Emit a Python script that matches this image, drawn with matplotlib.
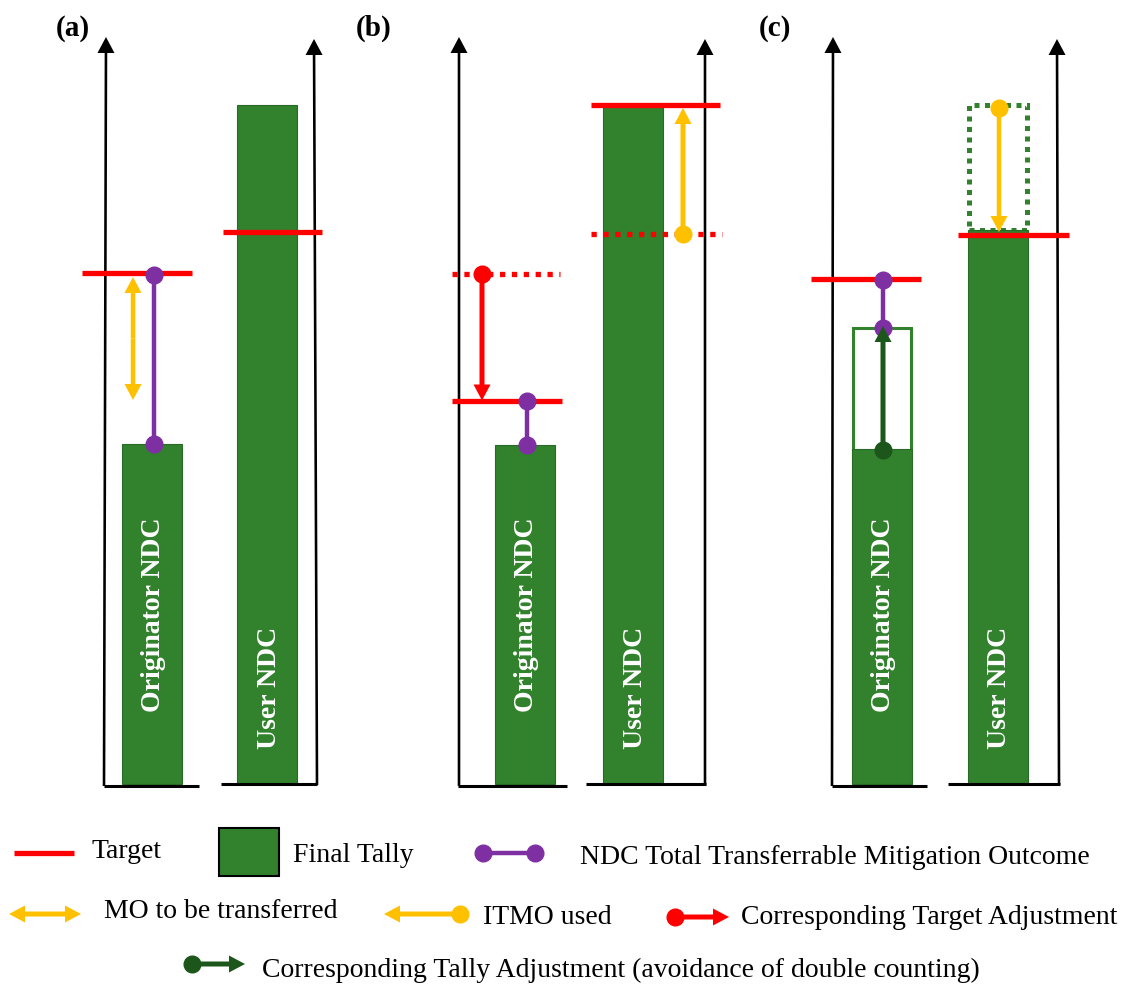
import matplotlib
matplotlib.use('Agg')
import matplotlib.pyplot as plt
from matplotlib.patches import Rectangle

# ---------------- data (heights above the baseline) ----------------
panels = ['(a)', '(b)', '(c)']
bar_labels = ['Originator NDC', 'User NDC']
originator_tally = [340, 339, 335]
user_tally = [679, 679, 554]
originator_target = [511, 383, 505]
user_target = [552, 679, 549]
originator_target_before = [None, 510, None]
user_target_before = [None, 550, None]
transferable_top = [509, 383, 504]
transferable_bottom = [340, 339, 456]
mo_to_transfer = [507, 384]            # panel (a) double arrow
itmo_used_b = [550, 676]               # dot -> arrow tip
itmo_used_c = [676, 552]
tally_adjust_c = [334, 456]            # dot -> arrow tip
originator_before_adjust_c = 456
user_before_adjust_c = [554, 679]
legend_labels = ['Target', 'Final Tally', 'NDC Total Transferrable Mitigation Outcome',
                 'MO to be transferred', 'ITMO used', 'Corresponding Target Adjustment',
                 'Corresponding Tally Adjustment (avoidance of double counting)']

# ---------------- styles ----------------
GREEN = '#31812d'
GREEN_EDGE = '#2a6a27'
DKGREEN = '#1d561b'
RED = '#ff0000'
PURPLE = '#7e30a3'
YELLOW = '#ffc000'
SERIF = ['Liberation Serif', 'DejaVu Serif']

W, H = 1132, 989
BASE = 784  # pixel row of the baseline


def P(py):
    """pixel row -> data value"""
    return BASE - py


fig = plt.figure(figsize=(W / 100, H / 100), dpi=100)
ax = fig.add_axes([0, 0, 1, 1])
ax.set_xlim(0, W)
ax.set_ylim(BASE - H, BASE)
ax.axis('off')

# layout (pixel x positions)
axis_left = [(104, 106), (459, 459), (832, 833)]
axis_right = [(317, 314), (705, 705), (1059, 1057)]
base_left = [(104, 199), (458, 567), (832, 927)]
base_right = [(221, 317), (586, 706), (948, 1060)]
orig_x = [152, 524.5, 881.5]
user_x = [267, 633, 997.5]
orig_tx = [(82, 192), (452, 562), (811, 921)]
user_tx = [(223, 322), (591, 720), (958, 1069)]
purple_x = [154, 527, 883]
label_x = [73, 374, 775]
BAR_W = 60


def arrow(x0, y0, x1, y1, color, width=4.5, hw=17, hl=16, z=5):
    ax.arrow(x0, y0, x1 - x0, y1 - y0, width=width, head_width=hw, head_length=hl,
             length_includes_head=True, color=color, lw=0, zorder=z)


for i in range(3):
    # axes with arrow heads
    (xb, xt) = axis_left[i]
    arrow(xb, P(786), xt, P(37), 'black', width=2.6, hw=17, hl=16, z=3)
    (xb, xt) = axis_right[i]
    arrow(xb, P(785), xt, P(39), 'black', width=2.6, hw=17, hl=16, z=3)
    ax.plot(base_left[i], [P(785.5), P(785.5)], color='black', lw=2.2, solid_capstyle='butt', zorder=3)
    ax.plot(base_right[i], [P(784), P(784)], color='black', lw=2.2, solid_capstyle='butt', zorder=3)

    ax.text(label_x[i], P(28), panels[i], ha='center', va='center', fontsize=21,
            fontweight='bold', family=SERIF)

    # bars
    if i == 2:
        ax.bar(orig_x[i], originator_before_adjust_c, width=BAR_W - 2, bottom=0, fill=False,
               edgecolor=GREEN, lw=2.2, zorder=2)
        ax.bar(user_x[i], user_before_adjust_c[1] - user_before_adjust_c[0], width=BAR_W - 2,
               bottom=user_before_adjust_c[0], fill=False, edgecolor=GREEN, lw=3.6,
               linestyle=(0, (1, 1.1)), zorder=2)
    ax.bar(orig_x[i], originator_tally[i], width=BAR_W, bottom=0, color=GREEN,
           edgecolor=GREEN_EDGE, lw=0.8, zorder=2)
    ax.bar(user_x[i], user_tally[i], width=BAR_W, bottom=0, color=GREEN,
           edgecolor=GREEN_EDGE, lw=0.8, zorder=2)
    ax.text(orig_x[i] + 2, P(615), bar_labels[0], rotation=90, ha='center', va='center',
            color='white', fontsize=20, fontweight='bold', family=SERIF, zorder=4)
    ax.text(user_x[i] + 2, P(688), bar_labels[1], rotation=90, ha='center', va='center',
            color='white', fontsize=20, fontweight='bold', family=SERIF, zorder=4)

    # targets
    ax.plot(orig_tx[i], [originator_target[i]] * 2, color=RED, lw=3.8,
            solid_capstyle='butt', zorder=4)
    ax.plot(user_tx[i], [user_target[i]] * 2, color=RED, lw=3.8,
            solid_capstyle='butt', zorder=4)

    # transferable outcome
    ax.plot([purple_x[i]] * 2, [transferable_bottom[i], transferable_top[i]], color=PURPLE,
            lw=3.2, marker='o', ms=12, zorder=6)

# panel (a): MO to be transferred (double arrow)
mid = (mo_to_transfer[0] + mo_to_transfer[1]) / 2
arrow(133, mid, 133, mo_to_transfer[0], YELLOW, width=4.5)
arrow(133, mid, 133, mo_to_transfer[1], YELLOW, width=4.5)

# panel (b): corresponding target adjustment
ax.plot((452, 560), [originator_target_before[1]] * 2, color=RED, lw=3.8,
        linestyle=(0, (1, 1.25)), dash_capstyle='butt', zorder=4)
ax.plot((591, 722), [user_target_before[1]] * 2, color=RED, lw=3.8,
        linestyle=(0, (1, 1.25)), dash_capstyle='butt', zorder=4)
arrow(482, originator_target_before[1], 482, originator_target[1] + 0.5, RED, width=5)
ax.plot(482, originator_target_before[1], 'o', color=RED, ms=12, zorder=6)
arrow(683, itmo_used_b[0], 683, itmo_used_b[1], YELLOW, width=5)
ax.plot(683, itmo_used_b[0], 'o', color=YELLOW, ms=12, zorder=6)

# panel (c): ITMO used and tally adjustment
arrow(999, itmo_used_c[0], 999, itmo_used_c[1], YELLOW, width=4.5)
ax.plot(999, itmo_used_c[0], 'o', color=YELLOW, ms=12, zorder=6)
arrow(883, tally_adjust_c[0], 883, tally_adjust_c[1] + 2, DKGREEN, width=5, z=7)
ax.plot(883, tally_adjust_c[0], 'o', color=DKGREEN, ms=12, zorder=7)

# ---------------- legend ----------------
LFS = 20
ax.plot((14, 74), (P(853), P(853)), color=RED, lw=3.8, solid_capstyle='butt')
ax.text(91, P(851), legend_labels[0], ha='left', va='center', fontsize=LFS, family=SERIF)
ax.add_patch(Rectangle((219, P(876)), 60, 48, facecolor=GREEN, edgecolor='black', lw=1.5))
ax.text(293, P(855), legend_labels[1], ha='left', va='center', fontsize=LFS, family=SERIF)
ax.plot((483, 535), (P(853), P(853)), color=PURPLE, lw=3.2, marker='o', ms=12)
ax.text(580, P(857), legend_labels[2], ha='left', va='center', fontsize=LFS, family=SERIF)

ax.plot([], [])
arrow(45, P(914), 9, P(914), YELLOW, width=5)
arrow(45, P(914), 81, P(914), YELLOW, width=5)
ax.text(104, P(912), legend_labels[3], ha='left', va='center', fontsize=LFS, family=SERIF)
arrow(462, P(914), 384, P(914), YELLOW, width=5)
ax.plot(460, P(914), 'o', color=YELLOW, ms=12, zorder=6)
ax.text(483, P(917), legend_labels[4], ha='left', va='center', fontsize=LFS, family=SERIF)
arrow(675, P(917), 729, P(917), RED, width=5)
ax.plot(675, P(917), 'o', color=RED, ms=12, zorder=6)
ax.text(741, P(917), legend_labels[5], ha='left', va='center', fontsize=LFS, family=SERIF)
arrow(192, P(964), 245, P(964), DKGREEN, width=5)
ax.plot(192, P(964), 'o', color=DKGREEN, ms=12, zorder=6)
ax.text(262, P(970), legend_labels[6], ha='left', va='center', fontsize=LFS, family=SERIF)

fig.savefig('out.png', dpi=100, facecolor='white')
